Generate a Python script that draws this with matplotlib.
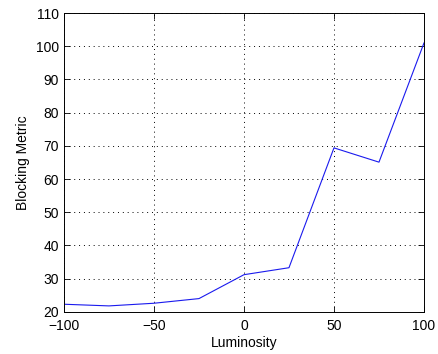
import numpy as np
import matplotlib
matplotlib.use('Agg')
import matplotlib.pyplot as plt

plt.rcParams['font.family'] = ['Liberation Sans', 'DejaVu Sans']

# Luminosity sweep and the blocking metric measured at each level
luminosity = [-100, -75, -50, -25, 0, 25, 50, 75, 100]
blocking = [22.3, 21.8, 22.6, 24.0, 31.2, 33.3, 69.4, 65.1, 101.0]

fig = plt.figure(figsize=(4.38, 3.54), dpi=100)
ax = fig.add_axes([0.146, 0.119, 0.822, 0.844])
ax.plot(luminosity, blocking, color='#1a1aee', linewidth=0.8)

ax.set_xlim(-100, 100)
ax.set_ylim(20, 110)
ax.set_xticks(np.arange(-100, 101, 50))
ax.set_yticks(np.arange(20, 111, 10))
ax.grid(True, color='black', linestyle=(0, (1, 4)), linewidth=0.7)
ax.tick_params(direction='in', top=True, right=True, labelsize=10, length=4, width=0.6)
ax.tick_params(axis='x', pad=5)
for s in ax.spines.values():
    s.set_linewidth(0.7)

ax.set_xlabel('Luminosity', fontsize=10, labelpad=2)
ax.set_ylabel('Blocking Metric', fontsize=10)

fig.savefig('out.png', dpi=100)
